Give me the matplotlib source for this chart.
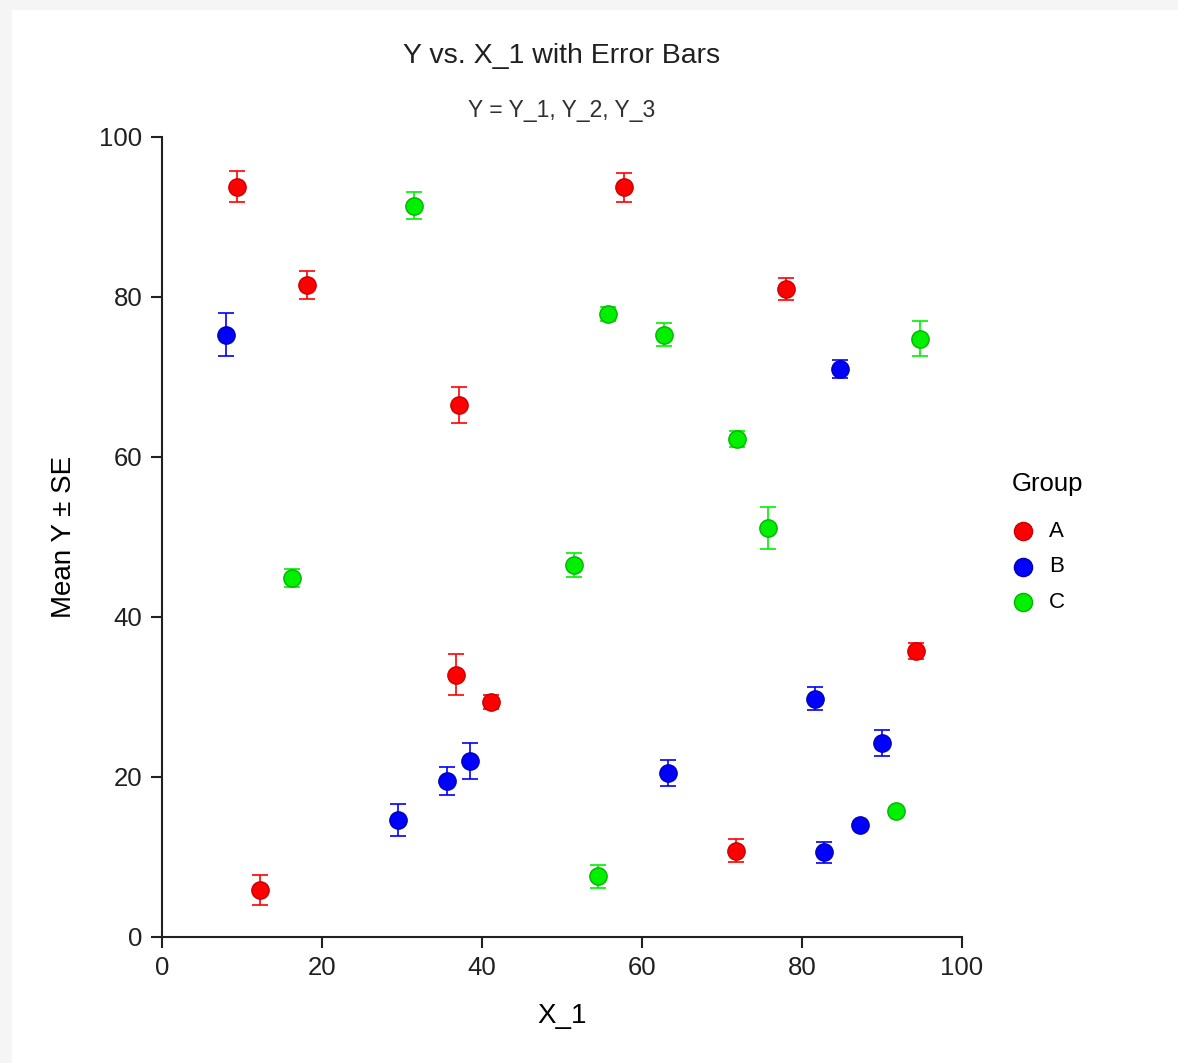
import matplotlib.pyplot as plt
import matplotlib.patches as patches

plt.rcParams['font.family'] = ['Liberation Sans', 'DejaVu Sans']

groups = ['A', 'B', 'C']
colors = {'A': '#ff0000', 'B': '#0000ff', 'C': '#00f000'}
edges = {'A': '#c80000', 'B': '#0000b4', 'C': '#00b400'}

# mean Y and standard error per X_1 value, one set per group
x_a = [9.4, 18.1, 37.1, 36.7, 41.1, 12.25, 57.7, 78.0, 71.75, 94.2]
y_a = [93.8, 81.5, 66.5, 32.8, 29.4, 5.9, 93.7, 81.0, 10.8, 35.8]
se_a = [1.95, 1.8, 2.2, 2.6, 0.9, 1.9, 1.8, 1.35, 1.45, 1.0]

x_b = [7.95, 84.75, 81.6, 89.95, 63.2, 38.5, 35.6, 29.5, 82.8, 87.2]
y_b = [75.3, 71.0, 29.8, 24.25, 20.5, 22.0, 19.5, 14.6, 10.6, 14.0]
se_b = [2.7, 1.1, 1.4, 1.6, 1.6, 2.2, 1.7, 2.0, 1.3, 0.4]

x_c = [31.5, 55.7, 62.8, 71.9, 75.7, 94.75, 16.3, 51.5, 54.5, 91.8]
y_c = [91.4, 77.9, 75.3, 62.25, 51.1, 74.8, 44.9, 46.5, 7.6, 15.7]
se_c = [1.7, 0.9, 1.4, 1.0, 2.6, 2.2, 1.1, 1.5, 1.45, 0.4]

data = {'A': (x_a, y_a, se_a), 'B': (x_b, y_b, se_b), 'C': (x_c, y_c, se_c)}

fig = plt.figure(figsize=(11.78, 10.63), dpi=100)
fig.patch.set_facecolor('#f5f5f5')
# white page on the gray background, kept under the axes
fig.patches.append(patches.Rectangle((12 / 1178, 0), 1 - 12 / 1178, 1 - 10 / 1063,
                                     transform=fig.transFigure, facecolor='white',
                                     edgecolor='none', zorder=-10))

ax = fig.add_axes([162 / 1178, 1 - 937 / 1063, 800 / 1178, 800 / 1063])
ax.set_facecolor('none')
ax.set_zorder(5)

handles = []
for g in groups:
    xs, ys, se = data[g]
    ax.errorbar(xs, ys, yerr=se, fmt='none', ecolor=colors[g], elinewidth=1.2,
                capsize=6, capthick=1.2, zorder=2, clip_on=False)
    h = ax.scatter(xs, ys, s=155, color=colors[g], edgecolor=edges[g],
                   linewidth=1, zorder=3, label=g, clip_on=False)
    handles.append(h)

ax.set_xlim(0, 100)
ax.set_ylim(0, 100)
ax.set_xticks(range(0, 101, 20))
ax.set_yticks(range(0, 101, 20))
ax.tick_params(direction='out', length=8, width=1.5, labelsize=18.5, pad=6,
               colors='#202020')
for side in ['top', 'right']:
    ax.spines[side].set_visible(False)
for side in ['left', 'bottom']:
    ax.spines[side].set_linewidth(1.5)
    ax.spines[side].set_color('#202020')

ax.set_xlabel('X_1', fontsize=20, labelpad=16)
ax.set_ylabel('Mean Y ± SE', fontsize=20, labelpad=16)

fig.text(562 / 1178, 1 - 56 / 1063, 'Y vs. X_1 with Error Bars', fontsize=20.5,
         ha='center', va='center', color='#202020')
fig.text(562 / 1178, 1 - 110 / 1063, 'Y = Y_1, Y_2, Y_3', fontsize=16.5,
         ha='center', va='center', color='#303030')

leg = ax.legend(handles=handles, title='Group', loc='upper left',
                bbox_to_anchor=(992 / 1178, 1 - 452 / 1063),
                bbox_transform=fig.transFigure, frameon=False, fontsize=16,
                title_fontsize=18.5, labelspacing=0.65, handletextpad=0.65,
                handlelength=1.0, markerscale=1.05, borderaxespad=0.5)
leg._legend_box.align = 'left'
# extra gap between the title and the first entry
leg._legend_box.sep = 18

plt.savefig('out.png', dpi=100, facecolor=fig.get_facecolor())
